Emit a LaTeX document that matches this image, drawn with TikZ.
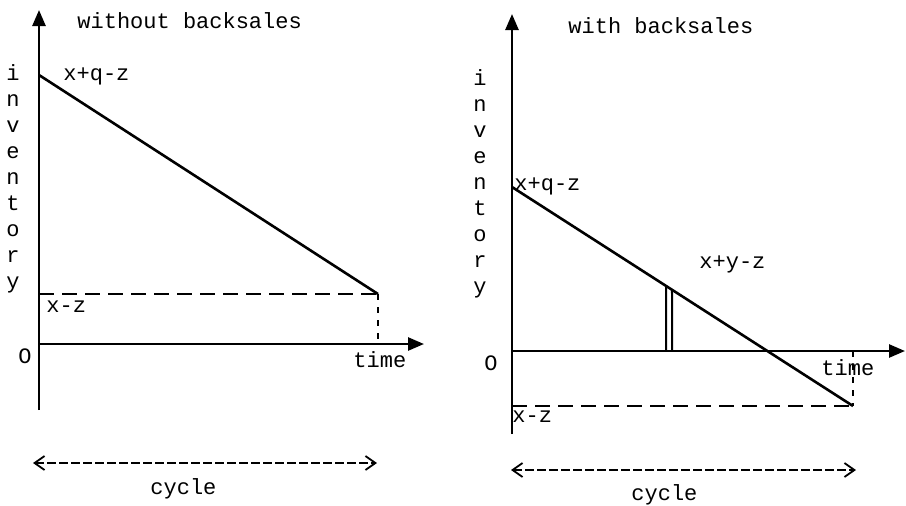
\documentclass[tikz,border=0pt]{standalone}
\usepackage{fontspec}
\setmainfont{Liberation Mono}
\usetikzlibrary{arrows.meta,calc}
\tikzset{
  axis/.style={line width=1.3pt,-{Triangle[length=8pt,width=6.5pt]}},
  stock/.style={line width=1.3pt},
  level/.style={line width=1.1pt,dash pattern=on 7.5pt off 4pt},
  drop/.style={line width=1.1pt,dash pattern=on 3pt off 3.5pt},
  cyc/.style={line width=0.9pt,dash pattern=on 4.5pt off 1.5pt,
    {Straight Barb[length=5pt,width=7pt]}-{Straight Barb[length=5pt,width=7pt]}},
  lbl/.style={font=\fontsize{11}{13}\selectfont,inner sep=0pt,anchor=base west},
  vlbl/.style={font=\fontsize{11}{13}\selectfont,align=center,inner sep=0pt,anchor=north},
}
\begin{document}
\begin{tikzpicture}[x=0.5pt,y=-0.5pt]
\useasboundingbox (0,0) rectangle (906,505);
% without backsales
\coordinate (o1) at (39,344);
\coordinate (ytop1) at (39,10);
\coordinate (ybot1) at (39,410);
\coordinate (xend1) at (424,344);
\coordinate (s1) at (39,75);
\coordinate (e1) at (378,294);
\coordinate (m1) at (39,294);
\coordinate (t1) at (378,344);
\draw[axis] (ybot1) -- (ytop1);
\draw[axis] (o1) -- (xend1);
\draw[stock] (s1) -- (e1);
\draw[level] (m1) -- (e1);
\draw[drop] (e1) -- (t1);
\node[lbl] (ttl1) at (77,28) {without backsales};
\node[lbl] (top1) at (63,80) {x+q-z};
\node[lbl] (min1) at (46,312) {x-z};
\node[lbl] (zero1) at (18,363) {O};
\node[lbl] (time1) at (353,367) {time};
\node[vlbl] (inv1) at (13,64) {i\\n\\v\\e\\n\\t\\o\\r\\y};
\coordinate (cl1) at (33,463);
\coordinate (cr1) at (377,463);
\draw[cyc] (cl1) -- (cr1);
\node[lbl] (cyc1) at (150,494) {cycle};
% with backsales
\coordinate (o2) at (512,351);
\coordinate (ytop2) at (512,14);
\coordinate (ybot2) at (512,434);
\coordinate (xend2) at (905,351);
\coordinate (s2) at (512,187);
\coordinate (e2) at (853,406);
\coordinate (m2) at (512,406);
\coordinate (t2) at (853,351);
\draw[axis] (ybot2) -- (ytop2);
\draw[axis] (o2) -- (xend2);
\draw[stock] (s2) -- (e2);
\draw[level] (m2) -- (e2);
\draw[drop] (t2) -- (e2);
\coordinate (b1) at (666,351);
\coordinate (b2) at (672,351);
\coordinate (bt1) at ($(s2)!0.4516!(e2)$);
\coordinate (bt2) at ($(s2)!0.4692!(e2)$);
\draw[line width=1pt] (b1) -- (bt1);
\draw[line width=1pt] (b2) -- (bt2);
\node[lbl] (ttl2) at (568,33) {with backsales};
\node[lbl] (top2) at (514,190) {x+q-z};
\node[lbl] (mid2) at (699,268) {x+y-z};
\node[lbl] (min2) at (512,422) {x-z};
\node[lbl] (zero2) at (484,370) {O};
\node[lbl] (time2) at (821,375) {time};
\node[vlbl] (inv2) at (480,69) {i\\n\\v\\e\\n\\t\\o\\r\\y};
\coordinate (cl2) at (511,470);
\coordinate (cr2) at (856,470);
\draw[cyc] (cl2) -- (cr2);
\node[lbl] (cyc2) at (631,500) {cycle};
\end{tikzpicture}
\end{document}
